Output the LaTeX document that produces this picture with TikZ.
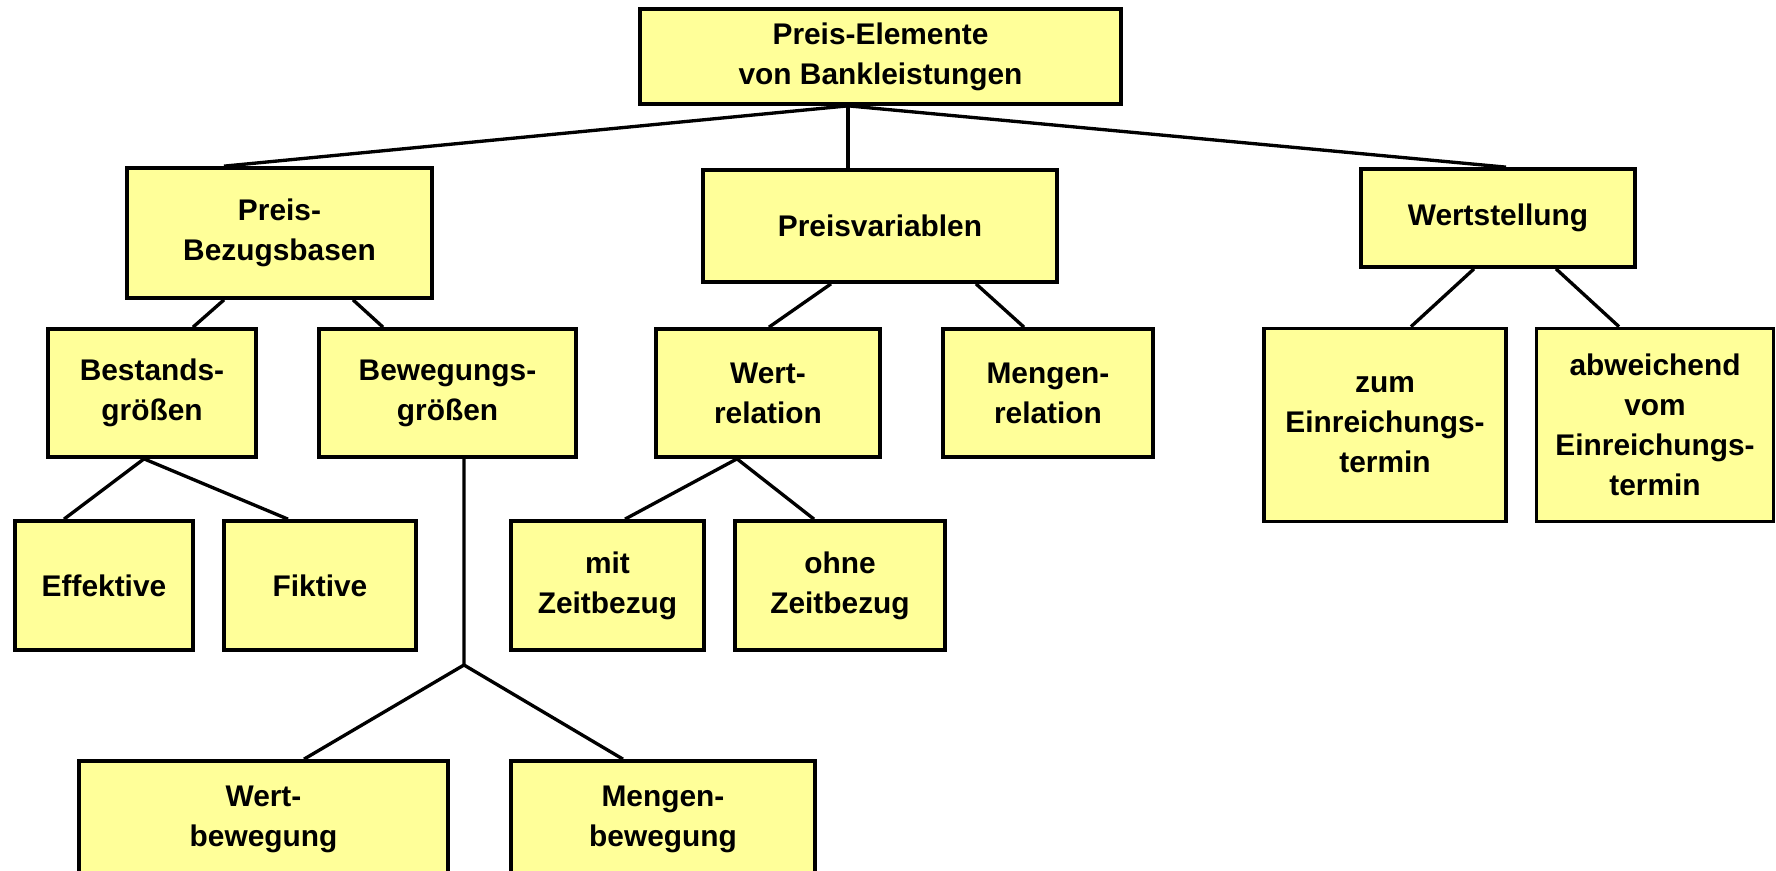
\documentclass[tikz,border=0pt]{standalone}
\usepackage{fontspec}
\setmainfont{Liberation Sans}
\usetikzlibrary{calc}
\definecolor{boxfill}{HTML}{FFFF99}
\tikzset{
  bx/.style 2 args={draw=black, line width=2.1pt, fill=boxfill, inner sep=0pt,
    minimum width=#1*0.02cm, minimum height=#2*0.02cm, align=center,
    font=\fontsize{17}{22.8}\selectfont\bfseries},
  conn/.style={draw=black, line width=1.9pt}
}
\begin{document}
\begin{tikzpicture}[x=0.02cm, y=-0.02cm]
\useasboundingbox (0,0) rectangle (1776,871);
\clip (0,0) rectangle (1776,871);
\fill[white] (0,0) rectangle (1776,871);
% nodes
\node[bx={481}{95}]  (top) at (880.5,56.5) {Preis-Elemente\\von Bankleistungen};
\node[bx={305}{130}] (pb)  at (279.5,233) {Preis-\\Bezugsbasen};
\node[bx={354}{112}] (pv)  at (880,226) {Preisvariablen};
\node[bx={274}{98}]  (ws)  at (1498,218) {Wertstellung};
\node[bx={208}{128}] (bg)  at (152,393) {Bestands-\\größen};
\node[bx={257}{128}] (bw)  at (447.5,393) {Bewegungs-\\größen};
\node[bx={224}{128}] (wr)  at (768,393) {Wert-\\relation};
\node[bx={210}{128}] (mr)  at (1048,393) {Mengen-\\relation};
\node[bx={242}{193}] (ze)  at (1385,425) {zum\\Einreichungs-\\termin};
\node[bx={237}{193}] (ab)  at (1655,425) {abweichend\\vom\\Einreichungs-\\termin};
\node[bx={178}{129}] (ef)  at (104,585.5) {Effektive};
\node[bx={192}{129}] (fi)  at (320,585.5) {Fiktive};
\node[bx={193}{129}] (mz)  at (607.5,585.5) {mit\\Zeitbezug};
\node[bx={210}{129}] (oz)  at (840,585.5) {ohne\\Zeitbezug};
\node[bx={369}{116}] (wb)  at (263.5,819) {Wert-\\bewegung};
\node[bx={304}{116}] (mb)  at (663,819) {Mengen-\\bewegung};
\coordinate (jn) at (464,665);
% connectors
\draw[conn] ($(top.south)+(-32.5,0)$) -- ($(pb.north)+(-55.5,0)$);
\draw[conn] ($(top.south)+(-32.5,0)$) -- ($(pv.north)+(-32,0)$);
\draw[conn] ($(top.south)+(-32.5,0)$) -- ($(ws.north)+(8,0)$);
\draw[conn] ($(pb.south)+(-55.5,0)$) -- ($(bg.north)+(41,0)$);
\draw[conn] ($(pb.south)+(73.5,0)$) -- ($(bw.north)+(-64.5,0)$);
\draw[conn] ($(pv.south)+(-49,0)$) -- ($(wr.north)+(1,0)$);
\draw[conn] ($(pv.south)+(96,0)$) -- ($(mr.north)+(-24,0)$);
\draw[conn] ($(ws.south)+(-24,0)$) -- ($(ze.north)+(26,0)$);
\draw[conn] ($(ws.south)+(58,0)$) -- ($(ab.north)+(-36,0)$);
\draw[conn] ($(bg.south)+(-8,0)$) -- ($(ef.north)+(-40,0)$);
\draw[conn] ($(bg.south)+(-8,0)$) -- ($(fi.north)+(-32,0)$);
\draw[conn] ($(wr.south)+(-31,0)$) -- ($(mz.north)+(17.5,0)$);
\draw[conn] ($(wr.south)+(-31,0)$) -- ($(oz.north)+(-26,0)$);
\draw[conn] ($(bw.south)+(16.5,0)$) -- (jn);
\draw[conn] (jn) -- ($(wb.north)+(40.5,0)$);
\draw[conn] (jn) -- ($(mb.north)+(-40,0)$);
\end{tikzpicture}
\end{document}
